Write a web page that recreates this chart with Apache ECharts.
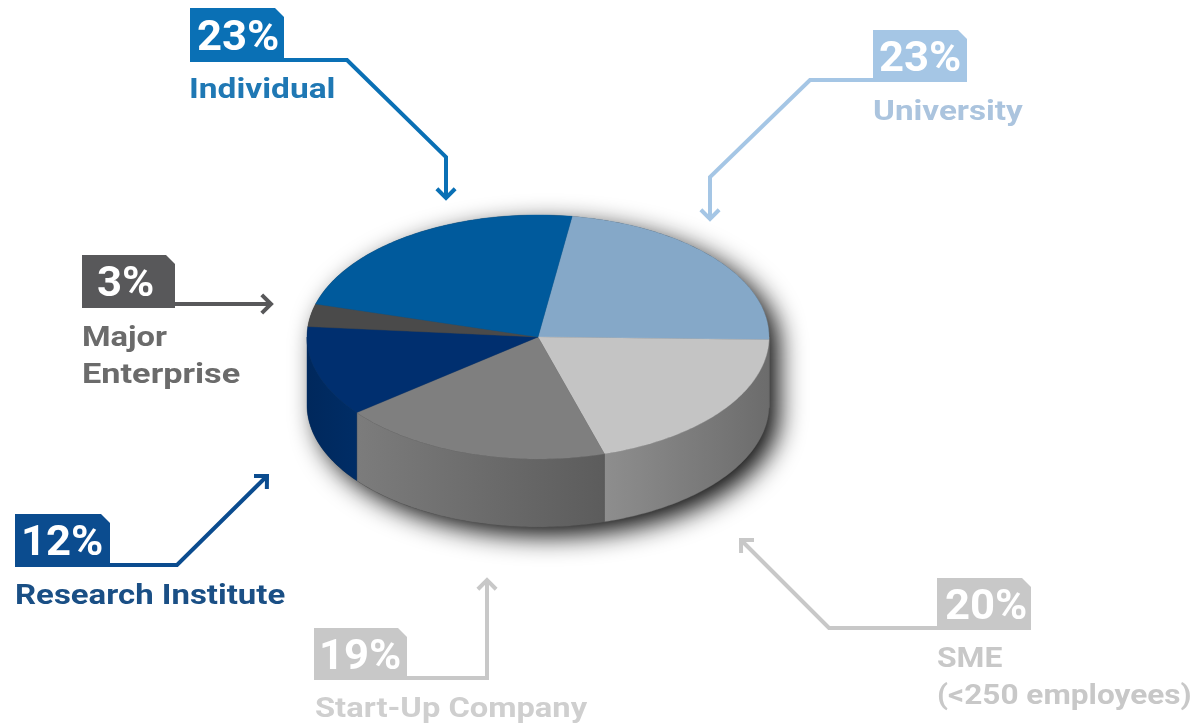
<!DOCTYPE html>
<html><head><meta charset="utf-8">
<script src="https://cdn.jsdelivr.net/npm/echarts@6/dist/echarts.min.js"></script>
<style>html,body{margin:0;padding:0;background:#fff}#c{width:1197px;height:725px}</style></head>
<body><div id="c"></div>
<script>
// ---- data ----
const categories = ['University','SME','Start-Up Company','Research Institute','Major Enterprise','Individual'];
const values = [23,20,19,12,3,23];
// ---- styles ----
const topColors = ['#85a8c8','#c4c4c4','#7f7f7f','#002f6f','#4a4a4a','#005a9c'];
const wallColors = [['#8a8a8a','#8a8a8a'],['#8e8e8e','#6c6c6c'],['#7c7c7c','#5c5c5c'],['#00285c','#002d66'],['#333','#333'],['#004a80','#004a80']];
const pie = {cx:538, cy:337, rx:231, ry:122, depth:68, start:8.5};
const FONT = 'Roboto, sans-serif';

// angle measured clockwise from the top of the ellipse
const pt = (deg, dy=0) => {
  const a = deg*Math.PI/180;
  return [pie.cx + pie.rx*Math.sin(a), pie.cy - pie.ry*Math.cos(a) + dy];
};
const arc = (a, b, dy=0) => {
  const pts = [], n = Math.max(2, Math.ceil(Math.abs(b-a)));
  for (let i=0;i<=n;i++) pts.push(pt(a+(b-a)*i/n, dy));
  return pts;
};
const total = values.reduce((s,v)=>s+v,0);
const spans = []; { let acc = pie.start;
  values.forEach(v => { spans.push([acc, acc+v/total*360]); acc += v/total*360; }); }

function renderSilhouette(){
  const pts = arc(90,270,pie.depth).concat(arc(270,450));
  return {type:'polygon', shape:{points:pts},
    style:{fill:'#3a3a3a', shadowBlur:26, shadowColor:'rgba(0,0,0,0.95)', shadowOffsetX:10, shadowOffsetY:9}};
}
function renderSlice(params, api){
  const i = params.dataIndex, [a,b] = spans[i], children = [];
  const w0 = Math.max(a,90), w1 = Math.min(b,270);
  if (w1 > w0) {
    const pts = arc(w0,w1).concat(arc(w1,w0,pie.depth));
    children.push({type:'polygon', shape:{points:pts},
      style:{fill:new echarts.graphic.LinearGradient(0,0,1,0,[{offset:0,color:wallColors[i][0]},{offset:1,color:wallColors[i][1]}]),
             stroke:wallColors[i][1], lineWidth:0.4}});
  }
  children.push({type:'polygon', shape:{points:[[pie.cx,pie.cy]].concat(arc(a,b))},
    style:{fill:topColors[i], stroke:topColors[i], lineWidth:0.4}});
  return {type:'group', children};
}

// ---- callouts ----
const callouts = [
 {i:5, box:[190,8,94,54],  color:'#0a70b5', txt:'#1f78b4', tx:197, line:[[284,60],[347,60],[446,157],[446,198]], labels:[['Individual',189,91,1.24]]},
 {i:0, box:[873,30,94,52], color:'#a5c6e5', txt:'#abc4de', tx:879, line:[[873,80],[810,80],[710,177],[710,219]], labels:[['University',873,113,1.23]]},
 {i:4, box:[82,255,93,53], color:'#58585a', txt:'#6b6b6b', tx:97,  line:[[175,304],[271,304]], labels:[['Major',82,339,1.21],['Enterprise',82,376,1.27]]},
 {i:3, box:[15,514,95,53], color:'#0b4c8f', txt:'#1a4f85', tx:21,  line:[[110,565],[177,565],[267,476]], labels:[['Research Institute',15,597,1.22]]},
 {i:2, box:[314,628,93,52],color:'#c8c8c8', txt:'#cfcfcf', tx:319, line:[[407,678],[487,678],[487,580]], labels:[['Start-Up Company',315,710,1.21]]},
 {i:1, box:[937,578,94,52],color:'#c8c8c8', txt:'#c8c8c8', tx:945, line:[[937,628],[829,628],[741,540]], labels:[['SME',937,660,1.18],['(<250 employees)',937,697,1.17]]}
];
const graphics = [];
callouts.forEach(c => {
  const [x,y,w,h] = c.box, n = 9;
  graphics.push({type:'polygon', z:10, shape:{points:[[x,y],[x+w-n,y],[x+w,y+n],[x+w,y+h],[x,y+h]]}, style:{fill:c.color}});
  graphics.push({type:'polyline', z:10, shape:{points:c.line}, style:{stroke:c.color, lineWidth:4, fill:'none', lineJoin:'miter'}});
  const p = c.line[c.line.length-1], q = c.line[c.line.length-2];
  const ang = Math.atan2(p[1]-q[1], p[0]-q[0]), s = 13;
  const wing = d => [p[0]-s*Math.cos(ang+d), p[1]-s*Math.sin(ang+d)];
  graphics.push({type:'polyline', z:10, shape:{points:[wing(0.78),p,wing(-0.78)]}, style:{stroke:c.color, lineWidth:4, fill:'none', lineJoin:'miter'}});
  graphics.push({type:'text', z:11, x:c.tx, y:y+h/2+4, scaleX:1.04, style:{text:values[c.i]+'%', x:0, y:0, fill:'#fff', font:'bold 42px '+FONT, textAlign:'left', textVerticalAlign:'middle'}});
  c.labels.forEach(l => graphics.push({type:'text', z:11, x:l[1], y:l[2], scaleX:l[3], style:{text:l[0], x:0, y:0, fill:c.txt, font:'bold 27px '+FONT, textAlign:'left', textVerticalAlign:'middle'}}));
});

const chart = echarts.init(document.getElementById('c'), null, {renderer:'canvas'});
chart.setOption({
  backgroundColor:'#ffffff', animation:false,
  graphic:{elements:graphics},
  series:[
    {type:'custom', coordinateSystem:'none', silent:true, z:1, data:[total], renderItem:renderSilhouette},
    {type:'custom', coordinateSystem:'none', silent:true, z:2, name:'Share',
     data:categories.map((n,k)=>({name:n,value:values[k]})), renderItem:renderSlice}
  ]
});
</script></body></html>
